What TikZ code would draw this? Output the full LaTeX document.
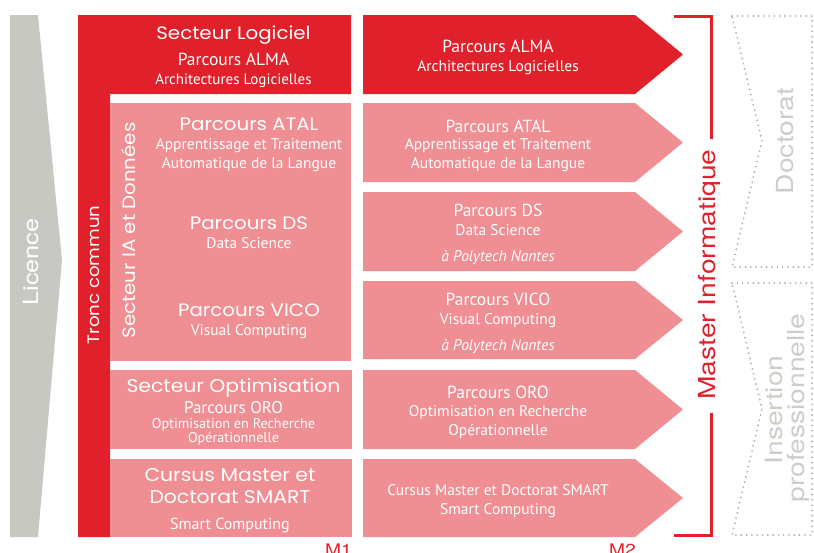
\documentclass[tikz,border=0pt]{standalone}
\usepackage{fontspec}
\setmainfont{PT Sans}
\newfontfamily\geo[FakeStretch=1.1]{Poppins}
\newfontfamily\wide[FakeStretch=1.2]{TeX Gyre Heros}
\newfontfamily\hum{PT Sans}
\newcommand\fsz[1]{\fontsize{#1}{#1}\selectfont}
\definecolor{ured}{HTML}{E0202A}
\definecolor{upink}{HTML}{EF8E93}
\definecolor{ugray}{HTML}{C8C8C3}
\definecolor{udot}{HTML}{B4B4AF}
\definecolor{utxtgray}{HTML}{CDCDC8}
\tikzset{
  lbl/.style={inner sep=0pt, anchor=base, text=white},
  rlbl/.style={inner sep=0pt, anchor=base, rotate=90},
  dotline/.style={udot, line width=2.1pt, line cap=round, dash pattern=on 0pt off 5.3pt},
  brk/.style={ured, line width=3pt},
}
\newcommand\mtwoarrow[3]{\fill[#3] (363,#1) -- (635,#1) -- (683,{(#1+#2)/2}) -- (635,#2) -- (363,#2) -- cycle;}
\begin{document}
\begin{tikzpicture}[x=1pt,y=-1pt]
\useasboundingbox (0,0) rectangle (814,552);
% Licence arrow
\fill[ugray] (10,15) -- (38,15) -- (62,260) -- (38,537) -- (10,537) -- cycle;
\node[rlbl, text=white, font=\wide\fsz{21}] (licence) at (38,262) {Licence};
% Tronc commun L shape
\fill[ured] (78,15) -- (351,15) -- (351,94) -- (110,94) -- (110,537) -- (78,537) -- cycle;
\node[rlbl, text=white, font=\geo\fsz{16.5}] (tronc) at (99,275) {Tronc commun};
\node[lbl, font=\geo\fsz{18}] (seclog) at (233.5,39) {Secteur Logiciel};
\node[lbl, font=\hum\fsz{17.5}] (almaA) at (233.5,65) {Parcours ALMA};
\node[lbl, font=\hum\fsz{15}] (almaB) at (233.5,84) {Architectures Logicielles};
% IA block
\fill[upink] (110,103) rectangle (351,361);
\node[rlbl, text=white, font=\geo\fsz{18}] (secia) at (135,230.5) {Secteur IA et Données};
\node[lbl, font=\geo\fsz{18}] (atalA) at (249,130) {Parcours ATAL};
\node[lbl, font=\hum\fsz{15.5}] (atalB) at (249,149) {Apprentissage et Traitement};
\node[lbl, font=\hum\fsz{15.5}] (atalC) at (249,168) {Automatique de la Langue};
\node[lbl, font=\geo\fsz{18}] (dsA) at (249,229) {Parcours DS};
\node[lbl, font=\hum\fsz{15.5}] (dsB) at (249,248) {Data Science};
\node[lbl, font=\geo\fsz{18}] (vicoA) at (249,316) {Parcours VICO};
\node[lbl, font=\hum\fsz{15.5}] (vicoB) at (249,335) {Visual Computing};
% Optimisation block
\fill[upink] (110,370) rectangle (352,449);
\node[lbl, font=\geo\fsz{18.5}] (secopt) at (233.5,392) {Secteur Optimisation};
\node[lbl, font=\hum\fsz{17}, text depth=0pt] (oroA) at (233.5,413.5) {Parcours ORO};
\node[lbl, font=\hum\fsz{14.2}] (oroB) at (233.5,428) {Optimisation en Recherche};
\node[lbl, font=\hum\fsz{14.2}] (oroC) at (233.5,442) {Opérationnelle};
% SMART block
\fill[upink] (110,459) rectangle (352,537);
\node[lbl, font=\geo\fsz{18.5}] (smA) at (230,481) {Cursus Master et};
\node[lbl, font=\geo\fsz{18.5}] (smB) at (230,503) {Doctorat SMART};
\node[lbl, font=\hum\fsz{16}] (smC) at (230,529) {Smart Computing};
% M2 arrows
\mtwoarrow{15}{94}{ured}
\mtwoarrow{103}{182}{upink}
\mtwoarrow{192}{271}{upink}
\mtwoarrow{281}{359}{upink}
\mtwoarrow{370}{449}{upink}
\mtwoarrow{459}{537}{upink}
\node[lbl, font=\hum\fsz{17.5}] (m2almaA) at (498,52) {Parcours ALMA};
\node[lbl, font=\hum\fsz{15.5}] (m2almaB) at (498,71) {Architectures Logicielles};
\node[lbl, font=\hum\fsz{17.5}] (m2atalA) at (498,132) {Parcours ATAL};
\node[lbl, font=\hum\fsz{15.5}] (m2atalB) at (498,149) {Apprentissage et Traitement};
\node[lbl, font=\hum\fsz{15.5}] (m2atalC) at (498,168) {Automatique de la Langue};
\node[lbl, font=\hum\fsz{17.5}] (m2dsA) at (498,216) {Parcours DS};
\node[lbl, font=\hum\fsz{15.5}] (m2dsB) at (498,235) {Data Science};
\node[lbl, font=\hum\itshape\fsz{15.5}] (m2dsC) at (498,261) {à Polytech Nantes};
\node[lbl, font=\hum\fsz{17.5}] (m2vicoA) at (498,305) {Parcours VICO};
\node[lbl, font=\hum\fsz{15.5}] (m2vicoB) at (498,324) {Visual Computing};
\node[lbl, font=\hum\itshape\fsz{15.5}] (m2vicoC) at (498,350) {à Polytech Nantes};
\node[lbl, font=\hum\fsz{17.5}] (m2oroA) at (498,398) {Parcours ORO};
\node[lbl, font=\hum\fsz{15.5}] (m2oroB) at (498,416) {Optimisation en Recherche};
\node[lbl, font=\hum\fsz{15.5}] (m2oroC) at (498,435) {Opérationnelle};
\node[lbl, font=\hum\fsz{15.5}] (m2smA) at (498,495) {Cursus Master et Doctorat SMART};
\node[lbl, font=\hum\fsz{15.5}] (m2smB) at (498,514) {Smart Computing};
% M1 / M2 labels
\node[inner sep=0pt, anchor=base east, text=ured, font=\wide\fsz{16}] (mone) at (352,555) {M1};
\node[inner sep=0pt, anchor=base east, text=ured, font=\wide\fsz{16}] (mtwo) at (636,555) {M2};
% Master bracket
\draw[brk] (674,16) -- (711,16) -- (711,139);
\draw[brk] (711,413) -- (711,535) -- (674,535);
\node[rlbl, text=ured, font=\wide\fsz{23.5}] (master) at (715,274.5) {Master Informatique};
% Doctorat / Insertion boxes
\draw[dotline] (732,16) -- (812,16) -- (812,267) -- (732,267) -- (762,141) -- cycle;
\draw[dotline] (732,283) -- (812,283) -- (812,535) -- (732,535) -- (762,409) -- cycle;
\node[rlbl, text=utxtgray, font=\wide\fsz{23.5}] (doct) at (793,141) {Doctorat};
\node[rlbl, text=utxtgray, font=\wide\fsz{23.5}] (insA) at (782,410) {Insertion};
\node[rlbl, text=utxtgray, font=\wide\fsz{23.5}] (insB) at (804,408) {professionnelle};
\end{tikzpicture}
\end{document}
